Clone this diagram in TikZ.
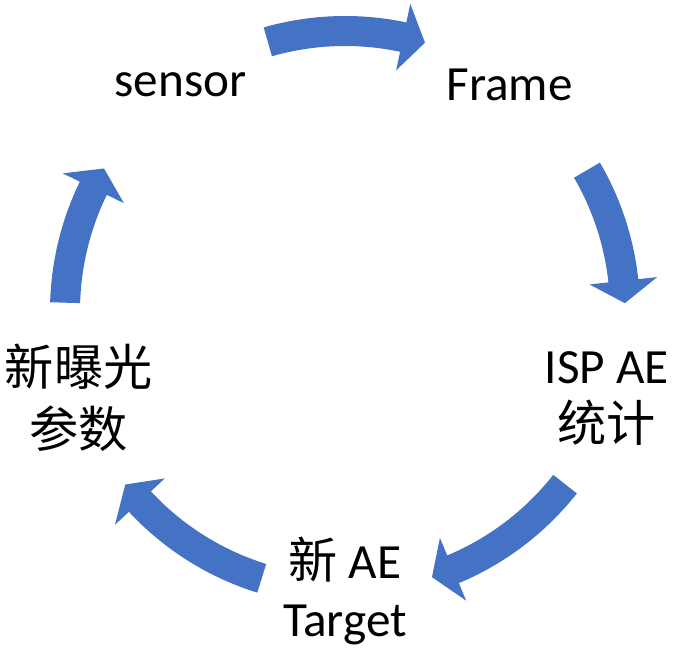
\documentclass[tikz,border=0pt]{standalone}
\usepackage{fontspec}
\setmainfont{Carlito}
\newfontfamily\cjk{Noto Sans CJK SC}
\usepackage{tikz}
\definecolor{arrowblue}{HTML}{4472C4}
\def\cyclearrow(#1:#2){\fill[arrowblue] ({#1}:7.375) arc ({#1}:{#2+4.6}:7.375) -- ({#2+4.6}:7.85) -- ({#2}:7) -- ({#2+4.6}:6.15) -- ({#2+4.6}:6.625) arc ({#2+4.6}:{#1}:6.625) -- cycle;}
\tikzset{
	step label/.style={align=center, font=\fontsize{35}{41}\selectfont},
	cjk label/.style={align=center, font=\cjk\fontsize{35}{44}\selectfont}
}

\begin{document}
\begin{tikzpicture}
				\useasboundingbox (-8.625, -8.65) rectangle (8.6, 7.775);
				\coordinate (c) at (0, 0);
				
				\node[step label] (sensor) at (126:7) {sensor};
				\node[step label] (frame) at (54:7) {Frame};
				\node[step label] (stats) at (-18.5:6.9) {ISP AE\\{\cjk 统计}};
				\node[step label] (target) at (-90:7) {{\cjk 新} AE\\Target};
				\node[cjk label] (expo) at (198:7) {新曝光\\参数};
				
				\cyclearrow(106:73.4)
				\cyclearrow(30.2:1.6)
				\cyclearrow(-38.2:-71.9)
				\cyclearrow(-107.3:-141.7)
				\cyclearrow(178.3:149.4)
			\end{tikzpicture}
\end{document}
